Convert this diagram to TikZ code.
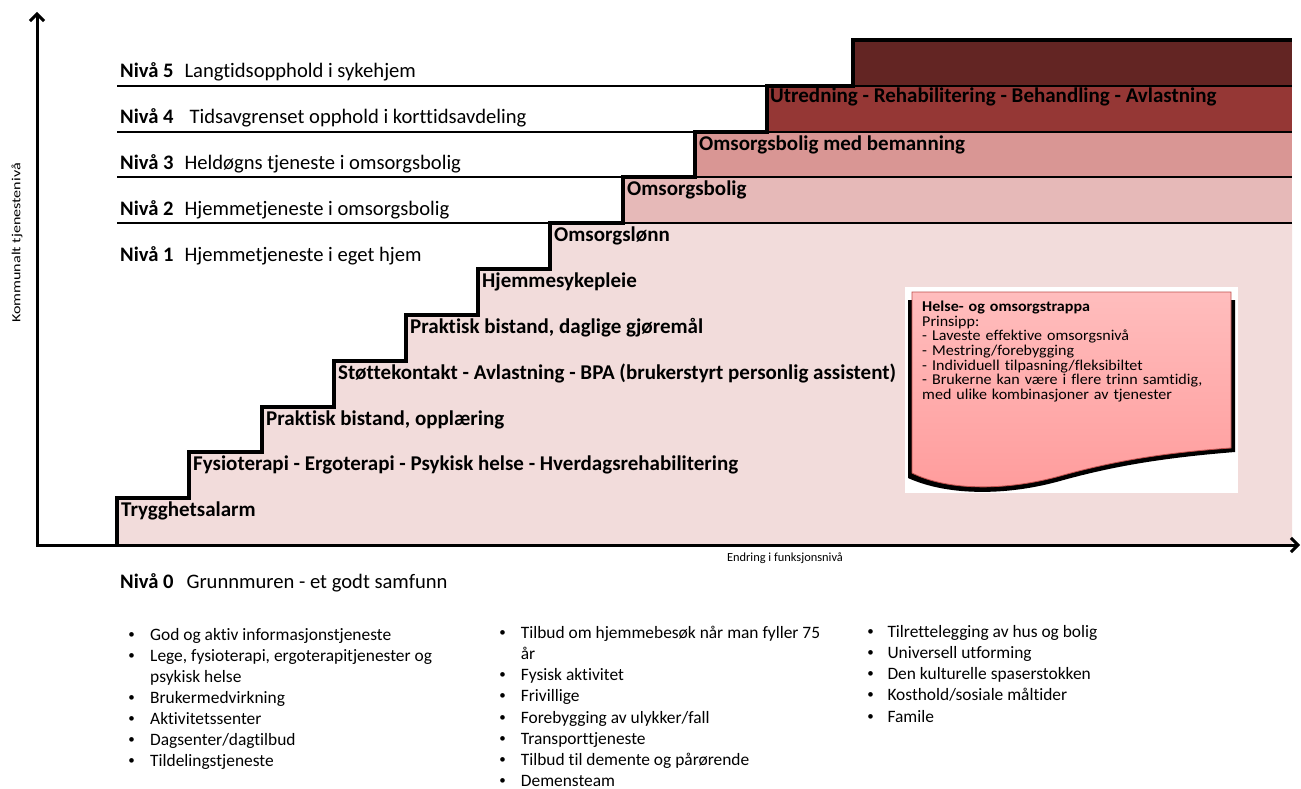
\documentclass[tikz,border=0pt]{standalone}
\usepackage{fontspec}
\setmainfont{Carlito}[Ligatures={NoCommon}]
\usetikzlibrary{arrows.meta}
\definecolor{lvA}{HTML}{F2DCDB}
\definecolor{lvB}{HTML}{E6B9B8}
\definecolor{lvC}{HTML}{D99694}
\definecolor{lvD}{HTML}{953735}
\definecolor{lvE}{HTML}{632523}
\definecolor{notetop}{HTML}{FFBDBD}
\definecolor{notebot}{HTML}{FF9C9C}
\definecolor{noteedge}{HTML}{C0504D}
\tikzset{
  lvltext/.style={anchor=base west, inner sep=0pt, font=\fontsize{20.6}{24}\selectfont},
  steplabel/.style={anchor=base west, inner sep=0pt, font=\fontsize{21}{24}\selectfont\bfseries},
  bulletdot/.style={anchor=base, inner sep=0pt, font=\fontsize{13}{21}\selectfont},
  bullettext/.style={anchor=base west, inner sep=0pt, font=\fontsize{17.4}{21}\selectfont},
  axislabel/.style={inner sep=0pt, font=\fontsize{12.4}{15}\selectfont},
  axisline/.style={line width=3pt, {Straight Barb[length=7pt,width=14pt]}-{Straight Barb[length=7pt,width=14pt]}},
  stairline/.style={line width=4pt, line join=miter},
  levelline/.style={line width=2pt},
  notetext/.style={anchor=base west, inner sep=0pt, text width=320pt, align=left,
    font=\fontsize{15}{14.6}\selectfont\addfontfeatures{FakeStretch=1.07}},
}
\begin{document}
\begin{tikzpicture}[x=1pt,y=-1pt]
\useasboundingbox (0,0) rectangle (1301,789);

% coloured levels
\fill[lvA] (117,545) -- (117,498) -- (189,498) -- (189,452) -- (262,452) -- (262,407)
  -- (334,407) -- (334,361) -- (406,361) -- (406,315) -- (478,315) -- (478,269)
  -- (550,269) -- (550,223) -- (1292,223) -- (1292,545) -- cycle;
\fill[lvB] (623,223) rectangle (1292,177);
\fill[lvC] (695,177) rectangle (1292,132);
\fill[lvD] (767,132) rectangle (1292,86);
\fill[lvE] (853,86) rectangle (1292,40);

% level lines
\foreach \yy in {86,132,177,223} \draw[levelline] (117,\yy) -- (1292,\yy);

% staircase outline
\draw[stairline] (117,545) -- (117,498) -- (189,498) -- (189,452) -- (262,452) -- (262,407)
  -- (334,407) -- (334,361) -- (406,361) -- (406,315) -- (478,315) -- (478,269)
  -- (550,269) -- (550,223) -- (623,223) -- (623,177) -- (695,177) -- (695,132)
  -- (767,132) -- (767,86) -- (853,86) -- (853,40) -- (1292,40);

% axes
\coordinate (origin) at (37,545);
\coordinate (ytip) at (37,12);
\coordinate (xtip) at (1300,545);
\draw[axisline] (ytip) -- (origin) -- (xtip);
\node[axislabel, rotate=90] (ylab) at (17,243) {\scalebox{1.3}[1]{Kommunalt tjenestenivå}};
\node[axislabel, anchor=base] (xlab) at (785,561) {Endring i funksjonsnivå};

% level labels
\node[lvltext] (niv5) at (120,77.3) {\textbf{Nivå 5}\hspace{11pt}Langtidsopphold i sykehjem};
\node[lvltext] (niv4) at (120,123.3) {\textbf{Nivå 4}\hspace{16pt}Tidsavgrenset opphold i korttidsavdeling};
\node[lvltext] (niv3) at (120,169.3) {\textbf{Nivå 3}\hspace{11pt}Heldøgns tjeneste i omsorgsbolig};
\node[lvltext] (niv2) at (120,215) {\textbf{Nivå 2}\hspace{11pt}Hjemmetjeneste i omsorgsbolig};
\node[lvltext] (niv1) at (120,261.7) {\textbf{Nivå 1}\hspace{11pt}Hjemmetjeneste i eget hjem};

% step labels
\node[steplabel] (s1) at (121,516) {Trygghetsalarm};
\node[steplabel] (s2) at (193,470) {Fysioterapi - Ergoterapi - Psykisk helse - Hverdagsrehabilitering};
\node[steplabel] (s3) at (266,425) {Praktisk bistand, opplæring};
\node[steplabel] (s4) at (338,379) {Støttekontakt - Avlastning - BPA (brukerstyrt personlig assistent)};
\node[steplabel] (s5) at (410,333) {Praktisk bistand, daglige gjøremål};
\node[steplabel] (s6) at (482,287) {Hjemmesykepleie};
\node[steplabel] (s7) at (554,241) {Omsorgslønn};
\node[steplabel] (s8) at (627,195) {Omsorgsbolig};
\node[steplabel] (s9) at (699,150) {Omsorgsbolig med bemanning};
\node[steplabel] (s10) at (770,103) {Utredning - Rehabilitering - Behandling - Avlastning};

% note
\fill[white] (905,287) rectangle (1238,493);
\fill[black] (908,300) -- (1235,300) -- (1235,452) .. controls (1160,458) and (1110,467) .. (1060,481)
  .. controls (1010,495) and (950,497) .. (908,478) -- cycle;
\shade[top color=notetop, bottom color=notebot, draw=noteedge, line width=0.8pt]
  (912,292) -- (1231,292) -- (1231,448) .. controls (1160,453) and (1110,462) .. (1060,476)
  .. controls (1010,490) and (950,492) .. (912,473) -- cycle;
\node[notetext] (note) at (922,311.7) {\lineskiplimit=-20pt\relax
\textbf{Helse- og omsorgstrappa}\\
Prinsipp:\\
- Laveste effektive omsorgsnivå\\
- Mestring/forebygging\\
- Individuell tilpasning/fleksibiltet\\
- Brukerne kan være i flere trinn samtidig,\\
med ulike kombinasjoner av tjenester};

% level 0
\node[lvltext] (niv0) at (120,588.3) {\textbf{Nivå 0}\hspace{13pt}Grunnmuren - et godt samfunn};

% bullet column 1
\foreach \t [count=\i from 0] in {God og aktiv informasjonstjeneste,
  {Lege, fysioterapi, ergoterapitjenester og},
  psykisk helse,
  Brukermedvirkning, Aktivitetssenter, Dagsenter/dagtilbud, Tildelingstjeneste}{
  \node[bullettext] (ca\i) at (150,640+21.1*\i) {\t};
}
\foreach \i in {0,1,3,4,5,6} \node[bulletdot] (da\i) at (131.7,638+21.1*\i) {•};

% bullet column 2
\foreach \t [count=\i from 0] in {Tilbud om hjemmebesøk når man fyller 75, år, Fysisk aktivitet,
  Frivillige, Forebygging av ulykker/fall, Transporttjeneste, Tilbud til demente og pårørende, Demensteam}{
  \node[bullettext] (cb\i) at (520.7,638.3+21.2*\i) {\t};
}
\foreach \i in {0,2,3,4,5,6,7} \node[bulletdot] (db\i) at (502.7,636.3+21.2*\i) {•};

% bullet column 3
\foreach \t [count=\i from 0] in {Tilrettelegging av hus og bolig, Universell utforming,
  Den kulturelle spaserstokken, Kosthold/sosiale måltider, Famile}{
  \node[bullettext] (cc\i) at (887.3,637.3+21.2*\i) {\t};
  \node[bulletdot] (dc\i) at (870.7,635.3+21.2*\i) {•};
}
\end{tikzpicture}
\end{document}
